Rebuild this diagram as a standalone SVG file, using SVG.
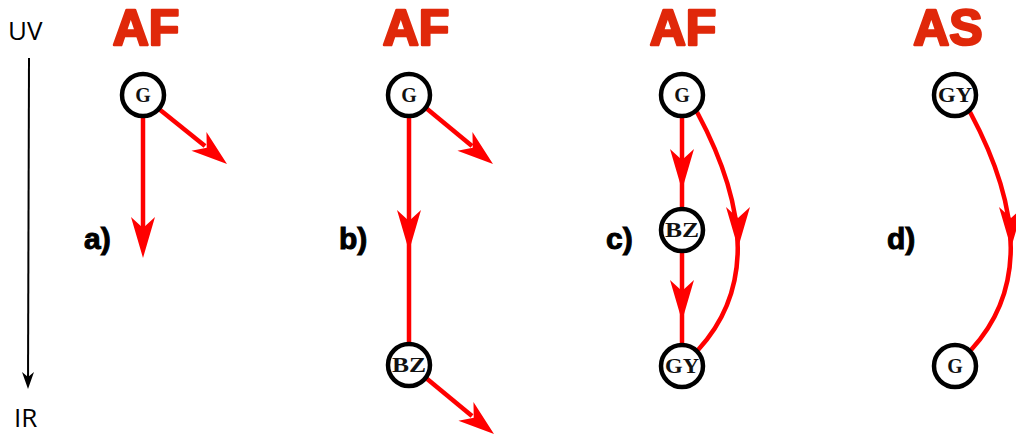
<svg xmlns="http://www.w3.org/2000/svg" width="1016" height="436" viewBox="0 0 1016 436">
<style>
.node{fill:#fff;stroke:#000;stroke-width:4.5}
.nt{font-family:"Liberation Serif",serif;font-weight:bold;font-size:20px;text-anchor:middle;fill:#111}
.edge{stroke:#ff0000;stroke-width:4.5;fill:none}
.head{fill:#ff0000}
.title{font-family:"Liberation Sans",Arial,sans-serif;font-weight:900;font-size:50px;fill:#e0280a;stroke:#e0280a;stroke-width:2.5;stroke-linejoin:round;text-anchor:middle}
.lab{font-family:"Liberation Sans",Arial,sans-serif;font-weight:bold;font-size:30px;fill:#000;stroke:#000;stroke-width:1}
.axis{font-family:"Open Sans","Liberation Sans",sans-serif;font-size:26px;fill:#000}
</style>
<defs>
<path id="h" d="M0,0 L-41,-12 L-30,0 L-41,12 Z"/>
<path id="hs" d="M0,0 L-36,-12 L-26,0 L-36,12 Z"/>
</defs>

<g id="axis">
<text class="axis" x="8" y="40">UV</text>
<line x1="29" y1="58" x2="28" y2="386" stroke="#000" stroke-width="2"/>
<path d="M22,372 L28,389 L34,372 L28,377 Z" fill="#000"/>
<text class="axis" x="14" y="427">IR</text>
</g>

<g id="titles">
<text class="title" x="146" y="45">AF</text>
<text class="title" x="416" y="45">AF</text>
<text class="title" x="683" y="45">AF</text>
<text class="title" x="948" y="45">AS</text>
</g>

<g id="labels">
<text class="lab" x="84" y="249">a)</text>
<text class="lab" x="339" y="249">b)</text>
<text class="lab" x="606" y="249">c)</text>
<text class="lab" x="887" y="249">d)</text>
</g>

<g id="connectors">
<!-- a -->
<line class="edge" x1="143" y1="118" x2="143" y2="228"/>
<use href="#h" class="head" transform="translate(143,258) rotate(90)"/>
<line class="edge" x1="159" y1="109" x2="205" y2="146"/>
<use href="#hs" class="head" transform="translate(227,164) rotate(38.8)"/>
<!-- b -->
<line class="edge" x1="409" y1="118" x2="409" y2="342"/>
<use href="#h" class="head" transform="translate(409,251) rotate(90)"/>
<line class="edge" x1="426" y1="108" x2="472" y2="146"/>
<use href="#hs" class="head" transform="translate(493,164) rotate(38.8)"/>
<line class="edge" x1="426" y1="378" x2="472" y2="416"/>
<use href="#hs" class="head" transform="translate(494,434) rotate(38.8)"/>
<!-- c -->
<line class="edge" x1="682" y1="118" x2="682" y2="208"/>
<use href="#h" class="head" transform="translate(682,190) rotate(90)"/>
<line class="edge" x1="682" y1="252" x2="682" y2="343"/>
<use href="#h" class="head" transform="translate(682,321) rotate(90)"/>
<path class="edge" d="M697,112 Q778,263 698,350"/>
<use href="#h" class="head" transform="translate(738,248) rotate(90)"/>
<!-- d -->
<path class="edge" d="M970,112 Q1051,263 971,350"/>
<use href="#h" class="head" transform="translate(1011,248) rotate(90)"/>
</g>

<g id="a-G"><circle class="node" cx="143" cy="95" r="21"/><text class="nt" x="143" y="102">G</text></g>
<g id="b-G"><circle class="node" cx="409" cy="95" r="21"/><text class="nt" x="409" y="102">G</text></g>
<g id="b-BZ"><circle class="node" cx="409" cy="365" r="21"/><text class="nt" x="409" y="372" textLength="34" lengthAdjust="spacingAndGlyphs">BZ</text></g>
<g id="c-G"><circle class="node" cx="682" cy="95" r="21"/><text class="nt" x="682" y="102">G</text></g>
<g id="c-BZ"><circle class="node" cx="682" cy="230" r="21"/><text class="nt" x="682" y="237" textLength="34" lengthAdjust="spacingAndGlyphs">BZ</text></g>
<g id="c-GY"><circle class="node" cx="682" cy="366" r="21"/><text class="nt" x="682" y="373" textLength="34" lengthAdjust="spacingAndGlyphs">GY</text></g>
<g id="d-GY"><circle class="node" cx="955" cy="95" r="21"/><text class="nt" x="955" y="102" textLength="34" lengthAdjust="spacingAndGlyphs">GY</text></g>
<g id="d-G"><circle class="node" cx="955" cy="366" r="21"/><text class="nt" x="955" y="373">G</text></g>
</svg>
